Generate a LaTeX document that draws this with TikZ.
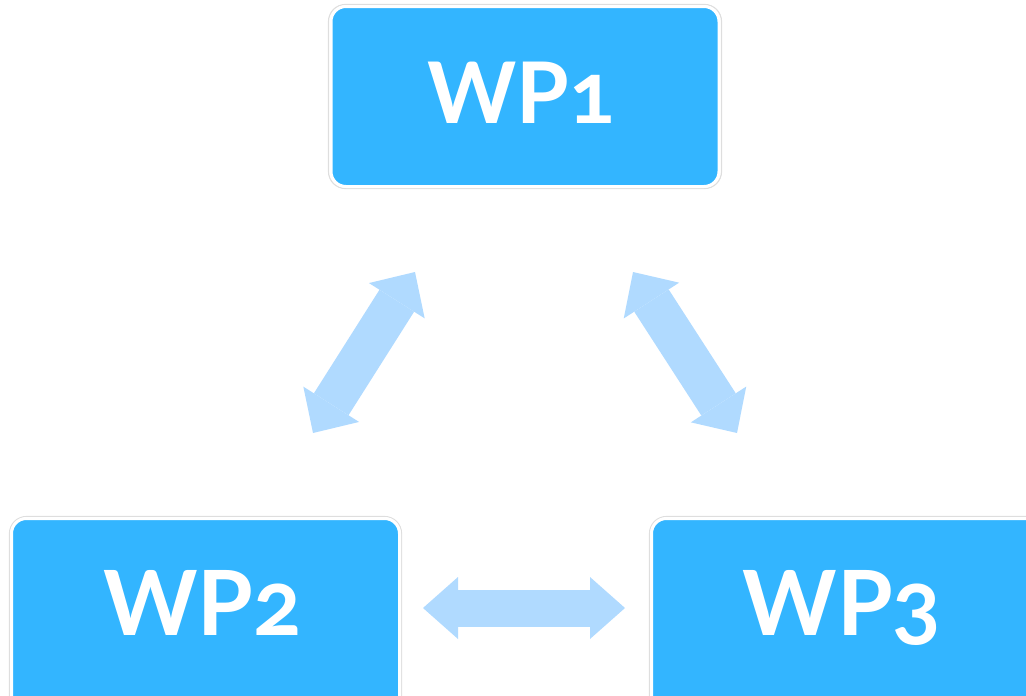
\documentclass[tikz,border=0pt]{standalone}
\usepackage{fontspec}
\setmainfont{Lato}[Numbers=OldStyle]
\usetikzlibrary{arrows.meta}
\definecolor{boxblue}{RGB}{51,181,255}
\definecolor{arrblue}{RGB}{176,218,255}
\definecolor{rimgray}{RGB}{222,222,222}
\tikzset{
  box/.style={fill=boxblue, rounded corners=15pt, draw=white, line width=3pt, inner sep=0pt},
  rim/.style={draw=rimgray, line width=1.2pt, rounded corners=17pt},
  lbl/.style={text=white, anchor=base, inner sep=0pt, font=\bfseries\fontsize{#1}{#1}\selectfont},
  dblarrow/.style n args={3}{draw=arrblue, line width=#1pt,
    {Triangle[length=#3pt,width=#2pt,line width=0pt,fill=arrblue]}-{Triangle[length=#3pt,width=#2pt,line width=0pt,fill=arrblue]}}
}
\begin{document}
\begin{tikzpicture}[x=1pt,y=-1pt]
\useasboundingbox (0,0) rectangle (1026,696);
\clip (0,0) rectangle (1026,696);
% rims
\draw[rim] (328.5,4.5) rectangle (721.5,188.5);
\draw[rim] (9.5,516.5) rectangle (401.5,720);
\draw[rim] (649.5,516.5) rectangle (1060,720);
% boxes
\node[box, minimum width=388pt, minimum height=180pt] (wp1) at (525,96.5) {};
\node[box, minimum width=388pt, minimum height=200pt] (wp2) at (205.5,618.5) {};
\node[box, minimum width=400pt, minimum height=200pt] (wp3) at (851.5,618.5) {};
% labels
\node[lbl=85] (t1) at (521.5,123) {WP1};
\node[lbl=90] (t2) at (202.5,635) {WP2};
\node[lbl=90] (t3) at (842,635) {WP3};
% arrow ends
\coordinate (a1) at (313,433);
\coordinate (a2) at (415,272);
\coordinate (b1) at (633,272);
\coordinate (b2) at (737,433);
\coordinate (c1) at (423,608);
\coordinate (c2) at (625,608);
\draw[dblarrow={41}{66}{34}] (a1) -- (a2);
\draw[dblarrow={41}{66}{34}] (b1) -- (b2);
\draw[dblarrow={37}{62}{35}] (c1) -- (c2);
\end{tikzpicture}
\end{document}
